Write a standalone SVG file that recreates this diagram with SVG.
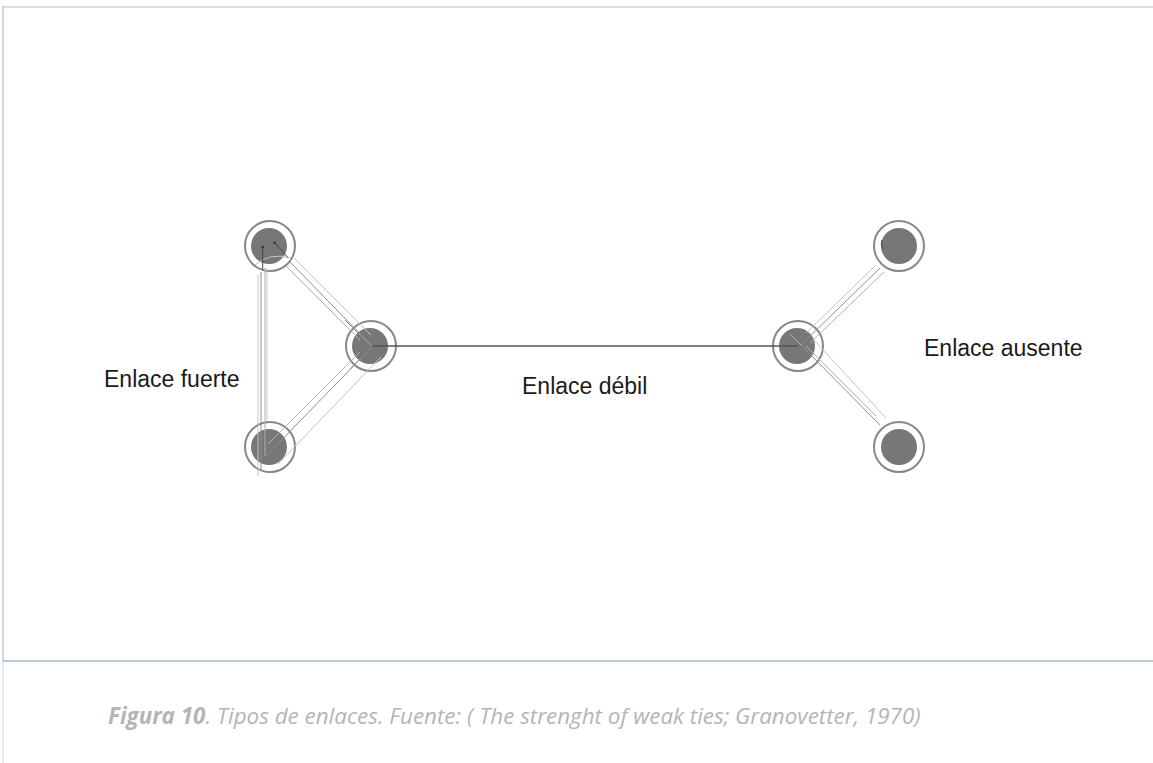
<svg xmlns="http://www.w3.org/2000/svg" width="1153" height="763" viewBox="0 0 1153 763">
  <style>
    .ring { fill: #ffffff; stroke: #888888; stroke-width: 2; }
    .core { fill: #777777; stroke: none; }
    .lbl { font-family: "Liberation Sans", Arial, sans-serif; font-size: 23px; fill: #1a1a1a; }
    .cap { font-family: "Open Sans", "Liberation Sans", sans-serif; font-size: 22.4px; font-style: italic; fill: #b5b5b5; }
    .t1 { stroke: #c4c4c4; stroke-width: 1; fill: none; }
    .t2 { stroke: #8f8f8f; stroke-width: 1; fill: none; }
    .t3 { stroke: #b0b0b0; stroke-width: 1; fill: none; }
    .weak { stroke: #555555; stroke-width: 1.5; fill: none; }
    .tick { stroke: #444444; stroke-width: 1; fill: none; }
  </style>

  <!-- page frame -->
  <g id="frame">
    <line x1="3" y1="7" x2="1153" y2="7" stroke="#dddddd" stroke-width="2"/>
    <line x1="3" y1="6" x2="3" y2="661" stroke="#c8c8c8" stroke-width="1.5"/>
    <line x1="3" y1="661" x2="3" y2="763" stroke="#d6e6f0" stroke-width="1.5"/>
    <line x1="3" y1="661" x2="1153" y2="661" stroke="#9cbdd2" stroke-width="1.5"/>
  </g>

  <!-- nodes -->
  <g id="node-a"><circle class="ring" cx="270" cy="246" r="25"/><circle class="core" cx="269" cy="246" r="18"/></g>
  <g id="node-b"><circle class="ring" cx="371" cy="346" r="25"/><circle class="core" cx="370" cy="346" r="18"/></g>
  <g id="node-c"><circle class="ring" cx="270" cy="447" r="25"/><circle class="core" cx="269" cy="447" r="18"/></g>
  <g id="node-d"><circle class="ring" cx="798" cy="346" r="25"/><circle class="core" cx="797" cy="346" r="18"/></g>
  <g id="node-e"><circle class="ring" cx="899" cy="246" r="25"/><circle class="core" cx="899" cy="246" r="18"/></g>
  <g id="node-f"><circle class="ring" cx="899" cy="447" r="25"/><circle class="core" cx="899" cy="447" r="18"/></g>

  <!-- connectors -->
  <g id="connectors">
    <!-- weak tie -->
    <line class="weak" x1="371" y1="346" x2="798" y2="346"/>

    <!-- strong tie a-b -->
    <line class="t1" x1="294" y1="258" x2="371" y2="335"/>
    <line class="t2" x1="290" y1="262" x2="372" y2="346"/>
    <line class="t3" x1="286" y1="266" x2="360" y2="340"/>
    <line class="t2" x1="345" y1="320" x2="372" y2="347"/>
    <!-- strong tie b-c -->
    <line class="t1" x1="381" y1="357" x2="278" y2="464"/>
    <line class="t2" x1="372" y1="347" x2="266" y2="456"/>
    <line class="t3" x1="360" y1="352" x2="268" y2="444"/>
    <line class="t2" x1="372" y1="347" x2="350" y2="369"/>
    <!-- strong tie a-c -->
    <line class="t1" x1="258" y1="275" x2="258" y2="476"/>
    <line class="t2" x1="261" y1="272" x2="261" y2="470"/>
    <line class="t3" x1="265" y1="268" x2="265" y2="456"/>
    <line class="t1" x1="267" y1="268" x2="267" y2="420"/>
    <path class="t1" d="M255 265 Q270 252 290 258"/>

    <!-- absent tie d-e -->
    <line class="t1" x1="876" y1="265" x2="806" y2="333"/>
    <line class="t2" x1="880" y1="268" x2="801" y2="345"/>
    <line class="t3" x1="884" y1="272" x2="810" y2="343"/>
    <!-- absent tie d-f -->
    <line class="t1" x1="813" y1="339" x2="886" y2="418"/>
    <line class="t2" x1="801" y1="345" x2="880" y2="425"/>
    <line class="t3" x1="806" y1="346" x2="876" y2="416"/>
    <line class="t3" x1="801" y1="345" x2="790" y2="334"/>

    <!-- arrow ticks inside node a -->
    <line class="tick" x1="262.7" y1="247" x2="262.7" y2="270"/>
    <circle cx="262.7" cy="247" r="1.3" fill="#333"/>
    <line class="tick" x1="274.7" y1="242.7" x2="288" y2="257.7"/>
    <circle cx="274.7" cy="242.7" r="1.3" fill="#333"/>
    <path class="tick" d="M882 240 Q880 244 883 249"/>
  </g>

  <!-- labels -->
  <g id="labels">
    <text class="lbl" x="104" y="387">Enlace fuerte</text>
    <text class="lbl" x="522" y="394">Enlace débil</text>
    <text class="lbl" x="924" y="356">Enlace ausente</text>
  </g>

  <!-- caption -->
  <g id="caption">
    <text class="cap" x="108" y="724"><tspan font-weight="bold">Figura 10</tspan>. Tipos de enlaces. Fuente: ( The strenght of weak ties; Granovetter, 1970)</text>
  </g>
</svg>
